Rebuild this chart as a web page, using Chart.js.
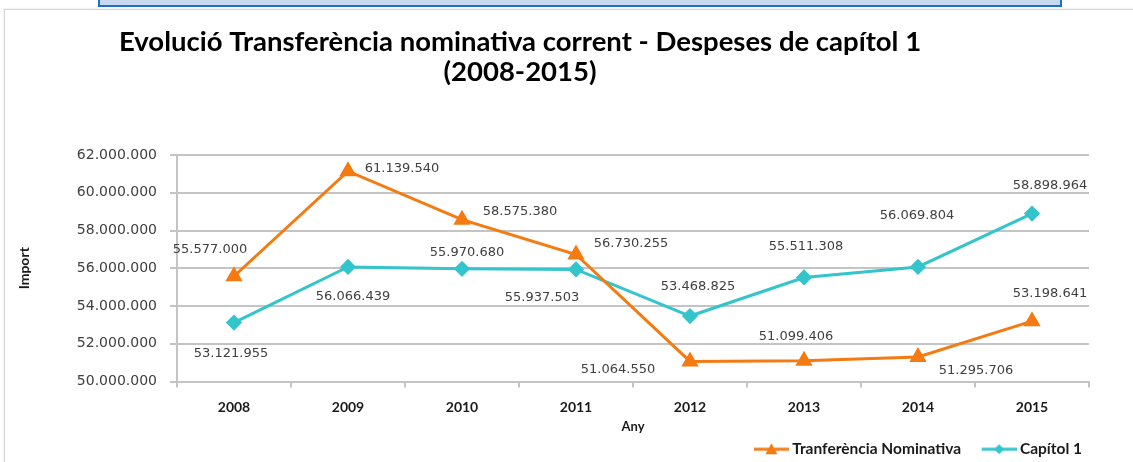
<!DOCTYPE html>
<html>
  <head>
    <title> Evolucio transferencia </title>
    <style>
      body { margin: 0; background: #fff; overflow: hidden; }
      #strip { position: absolute; left: 98px; top: 0; width: 960px; height: 5px;
               background: #c6d9f1; border: 2px solid #1f6fc6; border-top: none; }
      #frame { position: absolute; left: 4px; top: 9px; width: 1140px; height: 460px;
               border: 1px solid #d4d4d4; box-shadow: 0 0 2px #e0e0e0; }
      #wrap { position: absolute; left: 0; top: 0; }
    </style>
  </head>
  <body>
    <div id="strip"></div>
    <div id="frame"></div>
    <div id="wrap">
      <canvas id="myChart" width="1133" height="468"></canvas>
    </div>

    <script src="https://cdn.jsdelivr.net/npm/chart.js"></script>
    <script>

    // data
    const years = ['2008', '2009', '2010', '2011', '2012', '2013', '2014', '2015'];
    const transferencia = [55577000, 61139540, 58575380, 56730255, 51064550, 51099406, 51295706, 53198641];
    const capitol1 = [53121955, 56066439, 55970680, 55937503, 53468825, 55511308, 56069804, 58898964];
    const yTicks = [50000000, 52000000, 54000000, 56000000, 58000000, 60000000, 62000000];

    const ORANGE = '#f47b12';
    const CYAN = '#33c4cc';

    function fmt(n){
      return String(n).replace(/\B(?=(\d{3})+(?!\d))/g, '.');
    }

    // little line+marker icon for the legend (blank lead-in gives the gap between items)
    function legendIcon(color, style){
      const c = document.createElement('canvas');
      c.width = 53; c.height = 14;
      const g = c.getContext('2d');
      const x0 = 18;
      g.strokeStyle = color; g.lineWidth = 3;
      g.beginPath(); g.moveTo(x0, 7); g.lineTo(x0 + 35, 7); g.stroke();
      g.fillStyle = color;
      g.beginPath();
      const cx = x0 + 17.5;
      if(style == 'triangle'){
        g.moveTo(cx, 1); g.lineTo(cx + 6, 12); g.lineTo(cx - 6, 12);
      } else {
        g.moveTo(cx, 2); g.lineTo(cx + 5, 7); g.lineTo(cx, 12); g.lineTo(cx - 5, 7);
      }
      g.closePath(); g.fill();
      return c;
    }

    // value labels next to the points
    const pointLabels = {
      id: 'pointLabels',
      afterDatasetsDraw(chart, args, opts){
        const ctx = chart.ctx;
        ctx.save();
        ctx.font = '13px "DejaVu Sans"';
        ctx.fillStyle = '#404040';
        ctx.textAlign = 'center';
        ctx.textBaseline = 'middle';
        chart.data.datasets.forEach((ds, i) => {
          const meta = chart.getDatasetMeta(i);
          const offs = opts.offsets[i];
          meta.data.forEach((pt, j) => {
            ctx.fillText(fmt(ds.data[j]), pt.x + offs[j][0], pt.y + offs[j][1]);
          });
        });
        ctx.restore();
      }
    };

    // two line heading, centred like the original
    const heading = {
      id: 'heading',
      afterDraw(chart, args, opts){
        const ctx = chart.ctx;
        ctx.save();
        ctx.font = 'bold 27.5px Lato';
        ctx.fillStyle = '#000';
        ctx.textAlign = 'center';
        ctx.textBaseline = 'middle';
        opts.lines.forEach((t, k) => ctx.fillText(t, opts.x, opts.y + k * 30));
        ctx.restore();
      }
    };

    const ctx = document.getElementById('myChart');

    const data = {
      labels: years,
      datasets: [{
        label: 'Tranferència Nominativa',
        data: transferencia,
        borderColor: ORANGE,
        backgroundColor: ORANGE,
        borderWidth: 3,
        pointStyle: 'triangle',
        pointRadius: 7,
        pointHoverRadius: 7,
        legendIcon: legendIcon(ORANGE, 'triangle'),
      }, {
        label: 'Capítol 1',
        data: capitol1,
        borderColor: CYAN,
        backgroundColor: CYAN,
        borderWidth: 3,
        pointStyle: 'rectRot',
        pointRadius: 6,
        pointHoverRadius: 6,
        legendIcon: legendIcon(CYAN, 'diamond'),
      }]
    };

    const chart_config = {
      type: 'line',
      data: data,
      plugins: [pointLabels, heading],
      options: {
        responsive: false,
        animation: false,
        devicePixelRatio: 1,
        layout: { padding: { left: 12, right: 44, top: 155, bottom: 1 } },
        scales: {
          x: {
            offset: true,
            grid: { offset: true, drawOnChartArea: false, tickLength: 6, color: '#c4c4c4', lineWidth: 2 },
            border: { color: '#c4c4c4', width: 2 },
            ticks: { padding: 12, color: '#1a1a1a', font: { family: 'Lato', weight: 'bold', size: 14 } },
            title: { display: true, text: 'Any', color: '#1a1a1a', padding: { top: 0, bottom: 0 },
                     font: { family: 'Lato', weight: 'bold', size: 13 } },
            afterFit(scale){ scale.height = 53; }
          },
          y: {
            min: 50000000,
            max: 62000000,
            afterBuildTicks(scale){ scale.ticks = yTicks.map(v => ({ value: v })); },
            grid: { color: '#c4c4c4', lineWidth: 2, tickLength: 7 },
            border: { color: '#c4c4c4', width: 2 },
            ticks: { padding: 13, color: '#404040', font: { family: 'DejaVu Sans', size: 14 },
                     callback: v => fmt(v) },
            title: { display: true, text: 'Import', color: '#1a1a1a', padding: { top: 4, bottom: 0 },
                     font: { family: 'Lato', weight: 'bold', size: 14 } },
            afterFit(scale){ scale.width = 177 - 12; }
          }
        },
        plugins: {
          tooltip: { enabled: false },
          title: { display: false },
          legend: {
            position: 'bottom',
            align: 'end',
            labels: {
              usePointStyle: true,
              pointStyleWidth: 44,
              padding: 7,
              color: '#1a1a1a',
              font: { family: 'Lato', weight: 'bold', size: 15.5 },
              generateLabels(chart){
                return chart.data.datasets.map((ds, i) => ({
                  text: ds.label,
                  pointStyle: ds.legendIcon,
                  fillStyle: ds.borderColor,
                  strokeStyle: ds.borderColor,
                  fontColor: '#1a1a1a',
                  lineWidth: 0,
                  hidden: false,
                  datasetIndex: i
                }));
              }
            }
          },
          heading: {
            lines: ['Evolució Transferència nominativa corrent - Despeses de capítol 1', '(2008-2015)'],
            x: 520,
            y: 42
          },
          pointLabels: {
            offsets: [
              [[-24, -27], [54, -3], [58, -8], [55, -11], [-72, 8], [-8, -24], [58, 14], [18, -28]],
              [[-3, 31], [5, 30], [5, -16], [-34, 28], [8, -29], [2, -31], [-1, -51], [18, -28]]
            ]
          }
        }
      }
    };

    new Chart(ctx, chart_config);

    </script>
  </body>
</html>
